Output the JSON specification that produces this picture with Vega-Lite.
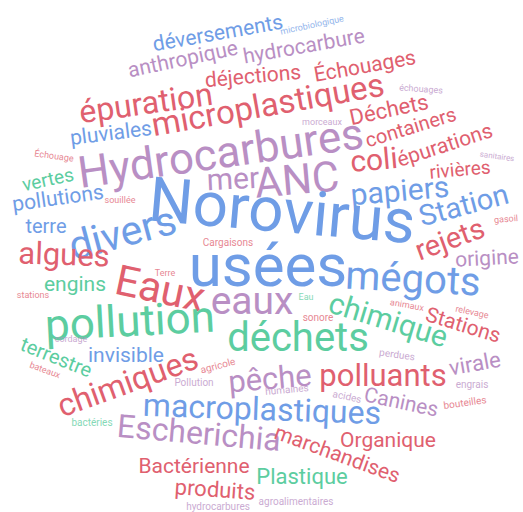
{
  "$schema": "https://vega.github.io/schema/vega-lite/v6.json",
  "width": 523,
  "height": 512,
  "autosize": {"type": "fit", "contains": "padding"},
  "padding": 0,
  "background": "white",
  "view": {"stroke": null},
  "data": {"values": [
    {"word": "déversements", "x": 218, "y": 34, "weight": 21, "angle": -10, "group": "b"},
    {"word": "microbiologique", "x": 312, "y": 25, "weight": 9, "angle": -12, "group": "b"},
    {"word": "anthropique", "x": 183, "y": 60, "weight": 21, "angle": -12, "group": "p"},
    {"word": "hydrocarbure", "x": 304, "y": 47, "weight": 21, "angle": -10, "group": "p"},
    {"word": "déjections", "x": 253, "y": 77, "weight": 21, "angle": -5, "group": "r"},
    {"word": "Échouages", "x": 365, "y": 67, "weight": 21, "angle": -10, "group": "r"},
    {"word": "épuration", "x": 146, "y": 104, "weight": 32, "angle": -8, "group": "r"},
    {"word": "microplastiques", "x": 268, "y": 106, "weight": 33, "angle": -10, "group": "r"},
    {"word": "morceaux", "x": 322, "y": 122, "weight": 9, "angle": 0, "group": "p"},
    {"word": "échouages", "x": 421, "y": 89, "weight": 9, "angle": 4, "group": "p"},
    {"word": "Déchets", "x": 389, "y": 110, "weight": 22, "angle": -12, "group": "r"},
    {"word": "containers", "x": 411, "y": 128, "weight": 20, "angle": -17, "group": "r"},
    {"word": "pluviales", "x": 111, "y": 134, "weight": 21, "angle": -7, "group": "b"},
    {"word": "Hydrocarbures", "x": 221, "y": 155, "weight": 44, "angle": -8, "group": "p"},
    {"word": "Échouage", "x": 54, "y": 156, "weight": 9, "angle": 8, "group": "r"},
    {"word": "mer", "x": 233, "y": 180, "weight": 30, "angle": -3, "group": "p"},
    {"word": "ANC", "x": 297, "y": 181, "weight": 42, "angle": -5, "group": "p"},
    {"word": "coli", "x": 374, "y": 161, "weight": 30, "angle": -5, "group": "r"},
    {"word": "épurations", "x": 445, "y": 146, "weight": 21, "angle": -18, "group": "r"},
    {"word": "rivières", "x": 460, "y": 170, "weight": 19, "angle": -5, "group": "r"},
    {"word": "sanitaires", "x": 497, "y": 157, "weight": 8, "angle": 8, "group": "p"},
    {"word": "vertes", "x": 48, "y": 180, "weight": 19, "angle": -12, "group": "g"},
    {"word": "pollutions", "x": 58, "y": 199, "weight": 21, "angle": -8, "group": "b"},
    {"word": "souillée", "x": 120, "y": 200, "weight": 9, "angle": 0, "group": "r"},
    {"word": "papiers", "x": 400, "y": 192, "weight": 30, "angle": -5, "group": "b"},
    {"word": "Station", "x": 464, "y": 206, "weight": 29, "angle": -15, "group": "b"},
    {"word": "gasoil", "x": 506, "y": 219, "weight": 9, "angle": -5, "group": "r"},
    {"word": "terre", "x": 46, "y": 227, "weight": 20, "angle": 0, "group": "b"},
    {"word": "divers", "x": 123, "y": 235, "weight": 41, "angle": -15, "group": "b"},
    {"word": "Norovirus", "x": 282, "y": 213, "weight": 62, "angle": 5, "group": "b"},
    {"word": "Cargaisons", "x": 228, "y": 243, "weight": 10, "angle": 0, "group": "r"},
    {"word": "usées", "x": 268, "y": 268, "weight": 60, "angle": 0, "group": "b"},
    {"word": "rejets", "x": 450, "y": 240, "weight": 29, "angle": -20, "group": "r"},
    {"word": "origine", "x": 487, "y": 259, "weight": 21, "angle": -3, "group": "p"},
    {"word": "mégots", "x": 413, "y": 280, "weight": 40, "angle": 3, "group": "b"},
    {"word": "algues", "x": 64, "y": 256, "weight": 31, "angle": 2, "group": "r"},
    {"word": "Eaux", "x": 160, "y": 290, "weight": 42, "angle": 12, "group": "r"},
    {"word": "Terre", "x": 165, "y": 273, "weight": 9, "angle": 0, "group": "r"},
    {"word": "engins", "x": 75, "y": 285, "weight": 21, "angle": 0, "group": "g"},
    {"word": "stations", "x": 33, "y": 295, "weight": 9, "angle": 0, "group": "r"},
    {"word": "eaux", "x": 252, "y": 302, "weight": 39, "angle": 0, "group": "p"},
    {"word": "Eau", "x": 306, "y": 297, "weight": 9, "angle": 0, "group": "g"},
    {"word": "sonore", "x": 318, "y": 318, "weight": 10, "angle": 0, "group": "r"},
    {"word": "animaux", "x": 407, "y": 305, "weight": 9, "angle": 10, "group": "r"},
    {"word": "relevage", "x": 472, "y": 312, "weight": 9, "angle": 12, "group": "r"},
    {"word": "Stations", "x": 463, "y": 326, "weight": 21, "angle": 17, "group": "r"},
    {"word": "chimique", "x": 388, "y": 321, "weight": 30, "angle": 17, "group": "g"},
    {"word": "pollution", "x": 130, "y": 323, "weight": 44, "angle": -3, "group": "g"},
    {"word": "déchets", "x": 298, "y": 339, "weight": 40, "angle": 0, "group": "g"},
    {"word": "cordage", "x": 71, "y": 339, "weight": 9, "angle": 0, "group": "p"},
    {"word": "terrestre", "x": 56, "y": 358, "weight": 20, "angle": 22, "group": "g"},
    {"word": "invisible", "x": 126, "y": 356, "weight": 21, "angle": 0, "group": "b"},
    {"word": "bateaux", "x": 45, "y": 370, "weight": 9, "angle": 20, "group": "r"},
    {"word": "chimiques", "x": 128, "y": 383, "weight": 32, "angle": -20, "group": "r"},
    {"word": "agricole", "x": 218, "y": 366, "weight": 10, "angle": -15, "group": "r"},
    {"word": "pêche", "x": 270, "y": 380, "weight": 31, "angle": -5, "group": "p"},
    {"word": "Pollution", "x": 194, "y": 383, "weight": 10, "angle": 0, "group": "p"},
    {"word": "humaines", "x": 287, "y": 390, "weight": 10, "angle": -5, "group": "p"},
    {"word": "acides", "x": 347, "y": 397, "weight": 10, "angle": 12, "group": "p"},
    {"word": "polluants", "x": 383, "y": 377, "weight": 31, "angle": 0, "group": "r"},
    {"word": "perdues", "x": 397, "y": 355, "weight": 10, "angle": 8, "group": "p"},
    {"word": "virale", "x": 475, "y": 364, "weight": 22, "angle": -10, "group": "p"},
    {"word": "engrais", "x": 472, "y": 385, "weight": 10, "angle": 0, "group": "p"},
    {"word": "Canines", "x": 401, "y": 403, "weight": 21, "angle": 12, "group": "p"},
    {"word": "bouteilles", "x": 465, "y": 403, "weight": 10, "angle": -8, "group": "r"},
    {"word": "macroplastiques", "x": 262, "y": 410, "weight": 32, "angle": 2, "group": "b"},
    {"word": "bactéries", "x": 92, "y": 423, "weight": 10, "angle": 0, "group": "g"},
    {"word": "Escherichia", "x": 199, "y": 434, "weight": 32, "angle": 5, "group": "p"},
    {"word": "marchandises", "x": 337, "y": 455, "weight": 21, "angle": 20, "group": "r"},
    {"word": "Organique", "x": 388, "y": 441, "weight": 21, "angle": 0, "group": "r"},
    {"word": "Bactérienne", "x": 194, "y": 467, "weight": 21, "angle": 0, "group": "r"},
    {"word": "Plastique", "x": 302, "y": 477, "weight": 22, "angle": 0, "group": "g"},
    {"word": "produits", "x": 215, "y": 490, "weight": 22, "angle": 4, "group": "r"},
    {"word": "agroalimentaires", "x": 296, "y": 502, "weight": 10, "angle": 0, "group": "p"},
    {"word": "hydrocarbures", "x": 218, "y": 507, "weight": 10, "angle": 0, "group": "p"}
  ]},
  "mark": {"type": "text", "font": "Roboto", "baseline": "middle", "align": "center"},
  "encoding": {
    "x": {"field": "x", "type": "quantitative", "scale": {"domain": [0, 523], "nice": false, "zero": false}, "axis": null},
    "y": {"field": "y", "type": "quantitative", "scale": {"domain": [0, 512], "nice": false, "zero": false, "reverse": true}, "axis": null},
    "text": {"field": "word", "type": "nominal"},
    "size": {"field": "weight", "type": "quantitative", "scale": {"type": "linear", "domain": [0, 100], "range": [0, 100], "zero": true}, "legend": null},
    "angle": {"field": "angle", "type": "quantitative", "scale": null},
    "opacity": {"condition": {"test": "datum.weight < 12", "value": 0.75}, "value": 1},
    "color": {"field": "group", "type": "nominal", "scale": {"domain": ["b", "r", "p", "g"], "range": ["#6f9de6", "#e0606f", "#b98fc4", "#5ccda0"]}, "legend": null}
  }
}
